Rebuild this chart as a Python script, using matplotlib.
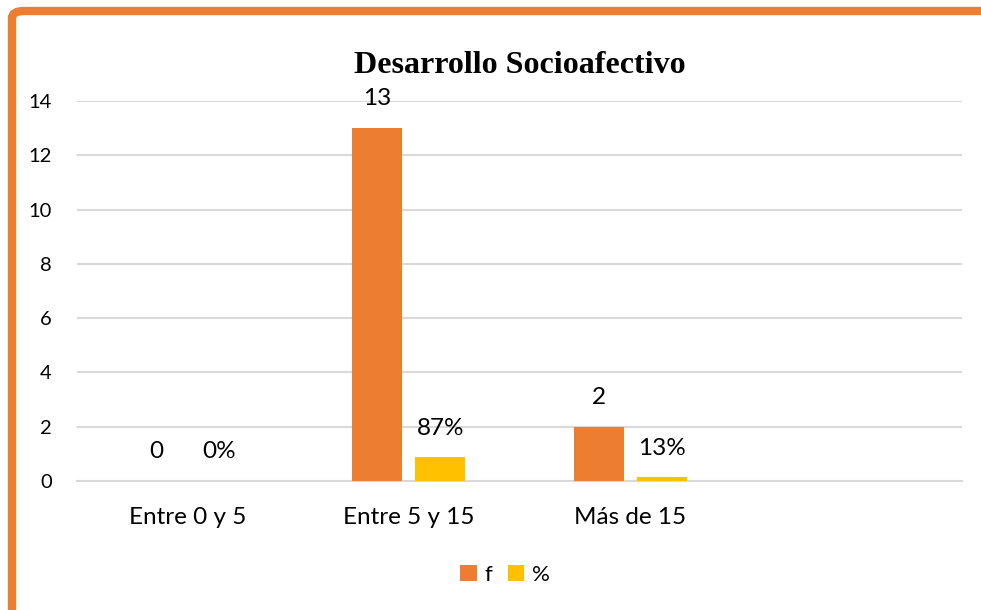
import numpy as np
import matplotlib.pyplot as plt
from matplotlib.patches import FancyBboxPatch

categories = ['Entre 0 y 5', 'Entre 5 y 15', 'Más de 15', '']
f_values = [0, 13, 2, 0]
pct_values = [0, 0.87, 0.13, 0]
f_labels = ['0', '13', '2', None]
pct_labels = ['0%', '87%', '13%', None]

orange = '#ED7D31'
yellow = '#FFC000'
grid_grey = '#D9D9D9'

plt.rcParams['font.family'] = ['Lato', 'DejaVu Sans']

fig = plt.figure(figsize=(9.81, 6.10), dpi=100)
ax = fig.add_axes([77/981, 1 - 481/610, (962-77)/981, (481-101)/610])

x = np.arange(len(categories))
w = 0.226
off = 0.142
b1 = ax.bar(x - off, f_values, width=w, color=orange, label='f', zorder=3)
b2 = ax.bar(x + off, pct_values, width=w, color=yellow, label='%', zorder=3)

for xi, v, lab in zip(x - off, f_values, f_labels):
    if lab is not None:
        ax.annotate(lab, (xi, v), xytext=(0, 21), textcoords='offset points',
                    ha='center', va='center', fontsize=17.5)
for xi, v, lab in zip(x + off, pct_values, pct_labels):
    if lab is not None:
        ax.annotate(lab, (xi, v), xytext=(0, 21), textcoords='offset points',
                    ha='center', va='center', fontsize=17.5)

ax.set_xlim(-0.5, len(categories) - 0.5)
ax.set_ylim(0, 14)
ax.set_yticks(range(0, 15, 2))
ax.set_xticks(x)
ax.set_xticklabels(categories)
ax.tick_params(axis='y', length=0, pad=18, labelsize=14.5)
ax.tick_params(axis='x', length=0, pad=19, labelsize=17.5)
ax.grid(axis='y', color=grid_grey, linewidth=1.5, zorder=0)
for s in ['top', 'right', 'left']:
    ax.spines[s].set_visible(False)
ax.spines['bottom'].set_color(grid_grey)
ax.spines['bottom'].set_linewidth(1.5)

ax.set_title('Desarrollo Socioafectivo', family='Liberation Serif',
             fontweight='bold', fontsize=23, pad=20)

fig.legend(handles=[b1, b2], loc='center', bbox_to_anchor=(505/981, 1 - 575/610),
           ncol=2, frameon=False, fontsize=16, handlelength=0.75, handleheight=0.75,
           handletextpad=0.35, columnspacing=0.7)

# orange frame (top and left edges visible)
frame = FancyBboxPatch((12/981, -0.2), 1.2, 1 - 11/610 + 0.2,
                       boxstyle='round,pad=0,rounding_size=0.012',
                       transform=fig.transFigure, fill=False,
                       edgecolor=orange, linewidth=6, clip_on=False)
fig.patches.append(frame)

fig.savefig('out.png', dpi=100)
